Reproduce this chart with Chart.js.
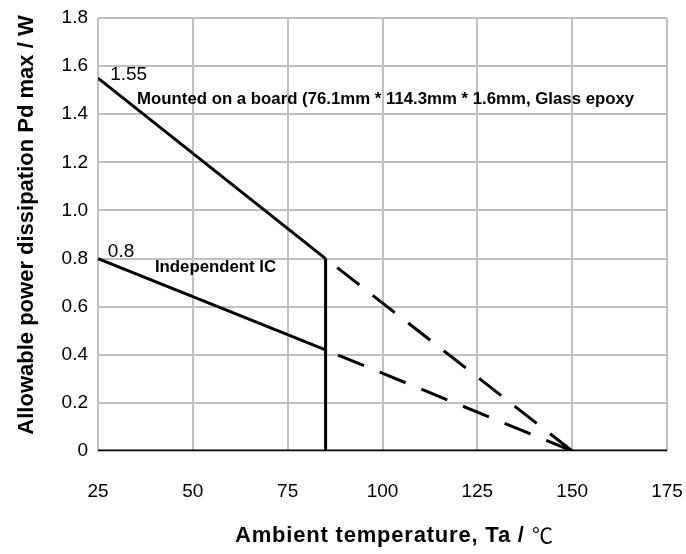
<!DOCTYPE html>
<html>
<head>
<meta charset="utf-8">
<script src="https://cdn.jsdelivr.net/npm/chart.js@4"></script>
<style>
  html, body { margin: 0; padding: 0; background: #fff; }
  #wrap { width: 686px; height: 554px; }
</style>
</head>
<body>
<div id="wrap"><canvas id="pdChart" width="686" height="554"></canvas></div>
<script>
// Derating curves
const boardTa = [25, 85, 150];
const boardPd = [1.55, 0.8, 0];
const icTa = [25, 85, 150];
const icPd = [0.8, 0.42, 0];
// vertical cut-off at 85 degC
const cutTa = [85, 85];
const cutPd = [0.8, 0];
// zero base line
const baseTa = [25, 175];
const basePd = [0, 0];

const xTicks = [25, 50, 75, 100, 125, 150, 175];
const yTicks = [0, 0.2, 0.4, 0.6, 0.8, 1.0, 1.2, 1.4, 1.6, 1.8];

const FONT = '"Liberation Sans", Arial, sans-serif';

const notes = [
    { text: '1.55', x: 28.2, y: 1.565, font: '19px ' + FONT },
    { text: 'Mounted on a board (76.1mm * 114.3mm * 1.6mm, Glass epoxy', x: 35.3, y: 1.46, font: 'bold 16.8px ' + FONT },
    { text: '0.8', x: 27.6, y: 0.83, font: '19px ' + FONT },
    { text: 'Independent IC', x: 40, y: 0.762, font: 'bold 16.8px ' + FONT }
];

function toPoints(xs, ys) {
    return xs.map((x, i) => ({ x: x, y: ys[i] }));
}

const DASH = [28, 17];
// dashed part after the 85 degC knee, pattern lined up so it ends on a dash at 150
const dashAfterKnee = {
    borderDash: ctx => ctx.p0DataIndex >= 1 ? DASH : undefined,
    borderDashOffset: ctx => {
        if (ctx.p0DataIndex < 1) return 0;
        const len = Math.hypot(ctx.p1.x - ctx.p0.x, ctx.p1.y - ctx.p0.y);
        return DASH[0] - (len % (DASH[0] + DASH[1]));
    }
};

// text labels and axis titles
const notePlugin = {
    id: 'notes',
    afterDatasetsDraw(chart) {
        const ctx = chart.ctx;
        const xs = chart.scales.x, ys = chart.scales.y;
        ctx.save();
        ctx.fillStyle = '#000';
        ctx.textAlign = 'left';
        ctx.textBaseline = 'middle';
        notes.forEach(n => {
            ctx.font = n.font;
            ctx.fillText(n.text, xs.getPixelForValue(n.x), ys.getPixelForValue(n.y));
        });

        // x title, the degree sign comes from a CJK font like the original
        ctx.textBaseline = 'alphabetic';
        ctx.font = 'bold 22px ' + FONT;
        ctx.letterSpacing = '0.8px';
        ctx.fillText('Ambient temperature, Ta /', 235, 542);
        ctx.letterSpacing = '0px';
        ctx.font = '21px "Noto Sans CJK JP", sans-serif';
        ctx.fillText('℃', 532, 543);

        // y title
        ctx.translate(33, 225);
        ctx.rotate(-Math.PI / 2);
        ctx.textAlign = 'center';
        ctx.font = 'bold 22px ' + FONT;
        ctx.fillText('Allowable power dissipation Pd max / W', 0, 0);
        ctx.restore();
    }
};

const lineStyle = {
    borderColor: '#000',
    borderWidth: 3,
    pointRadius: 0,
    fill: false,
    tension: 0
};

new Chart(document.getElementById('pdChart').getContext('2d'), {
    type: 'line',
    data: {
        datasets: [
            Object.assign({ label: 'board', data: toPoints(boardTa, boardPd), segment: dashAfterKnee }, lineStyle),
            Object.assign({ label: 'ic', data: toPoints(icTa, icPd), segment: dashAfterKnee }, lineStyle),
            Object.assign({ label: 'cut', data: toPoints(cutTa, cutPd) }, lineStyle),
            Object.assign({ label: 'base', data: toPoints(baseTa, basePd) }, lineStyle)
        ]
    },
    options: {
        responsive: false,
        animation: false,
        layout: { padding: { top: 18, right: 19, left: 0, bottom: 0 } },
        plugins: {
            legend: { display: false },
            tooltip: { enabled: false }
        },
        scales: {
            x: {
                type: 'linear',
                min: 25,
                max: 175,
                afterFit: s => { s.height = 103; s.paddingLeft = 0; s.paddingRight = 0; },
                afterBuildTicks: s => { s.ticks = xTicks.map(v => ({ value: v })); },
                grid: { color: '#c0c0c0', lineWidth: 2, drawTicks: false },
                border: { display: false },
                ticks: {
                    color: '#000',
                    padding: 29,
                    maxRotation: 0,
                    font: { family: FONT, size: 19 }
                }
            },
            y: {
                type: 'linear',
                min: 0,
                max: 1.8,
                afterFit: s => { s.width = 98; s.paddingTop = 0; s.paddingBottom = 0; },
                afterBuildTicks: s => { s.ticks = yTicks.map(v => ({ value: v })); },
                grid: { color: '#c0c0c0', lineWidth: 2, drawTicks: false },
                border: { display: false },
                ticks: {
                    color: '#000',
                    padding: 10,
                    font: { family: FONT, size: 19 },
                    callback: v => v === 0 ? '0' : v.toFixed(1)
                }
            }
        }
    },
    plugins: [notePlugin]
});
</script>
</body>
</html>
